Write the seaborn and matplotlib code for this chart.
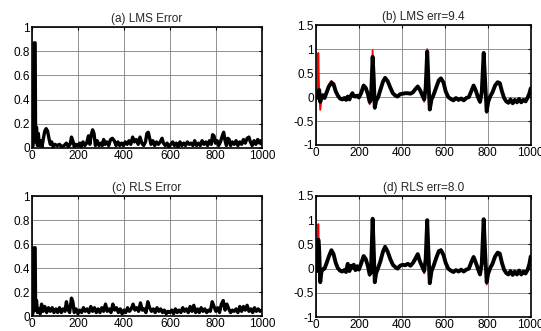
import matplotlib
matplotlib.use("Agg")
import matplotlib.pyplot as plt
import numpy as np
import seaborn as sns

# ---- error curves (peaks/troughs) ----
lms_err_x = [0, 5, 10, 14, 16, 20, 24, 28, 32, 38, 44, 50, 56, 62, 68, 74, 80, 86, 92, 100,
             110, 120, 130, 140, 150, 158, 166, 172, 178, 184, 192, 200, 208, 214, 222, 230, 238, 246, 252, 258,
             264, 270, 276, 284, 292, 300, 306, 312, 318, 326, 334, 342, 350, 358, 366, 374, 382, 390, 398, 406,
             414, 422, 430, 438, 446, 454, 462, 470, 478, 486, 494, 500, 506, 512, 518, 526, 534, 542, 550, 558,
             566, 572, 580, 588, 596, 604, 612, 620, 628, 636, 644, 652, 660, 668, 676, 684, 692, 700, 708, 716,
             724, 732, 740, 748, 756, 764, 772, 780, 786, 792, 798, 806, 812, 820, 828, 834, 840, 846, 852, 858,
             864, 872, 880, 888, 896, 904, 912, 920, 928, 936, 944, 950, 958, 966, 974, 982, 990, 996, 1000]
lms_err_y = [0.0, 0.02, 0.87, 0.87, 0.05, 0.17, 0.02, 0.12, 0.02, 0.06, 0.01, 0.08, 0.14, 0.16, 0.14, 0.08, 0.03, 0.05, 0.01, 0.03,
             0.02, 0.03, 0.01, 0.02, 0.04, 0.01, 0.03, 0.09, 0.06, 0.01, 0.03, 0.02, 0.04, 0.01, 0.05, 0.02, 0.04, 0.10, 0.03, 0.11,
             0.15, 0.12, 0.02, 0.06, 0.02, 0.04, 0.02, 0.07, 0.03, 0.05, 0.02, 0.07, 0.08, 0.06, 0.02, 0.05, 0.02, 0.04, 0.02, 0.05,
             0.03, 0.06, 0.03, 0.09, 0.05, 0.07, 0.03, 0.09, 0.04, 0.02, 0.05, 0.12, 0.13, 0.08, 0.03, 0.06, 0.02, 0.05, 0.03, 0.05,
             0.08, 0.04, 0.02, 0.04, 0.01, 0.03, 0.05, 0.02, 0.04, 0.01, 0.05, 0.02, 0.04, 0.02, 0.05, 0.03, 0.04, 0.02, 0.06, 0.02,
             0.04, 0.02, 0.06, 0.03, 0.05, 0.02, 0.06, 0.03, 0.11, 0.10, 0.04, 0.06, 0.02, 0.05, 0.10, 0.13, 0.06, 0.02, 0.08, 0.07,
             0.02, 0.05, 0.03, 0.06, 0.02, 0.05, 0.03, 0.07, 0.04, 0.08, 0.09, 0.05, 0.02, 0.06, 0.03, 0.07, 0.04, 0.06, 0.03]

rls_err_x = [0, 5, 9, 14, 16, 20, 24, 30, 36, 42, 48, 56, 64, 72, 80, 88, 96, 104, 112, 120,
             128, 136, 144, 150, 156, 164, 172, 178, 184, 192, 200, 208, 216, 224, 232, 240, 248, 256, 264, 272,
             280, 288, 296, 304, 312, 320, 328, 336, 344, 352, 360, 368, 376, 384, 392, 400, 408, 416, 424, 432,
             440, 448, 456, 464, 472, 480, 488, 496, 504, 512, 520, 528, 536, 544, 552, 560, 568, 576, 584, 592,
             600, 608, 616, 624, 632, 640, 648, 656, 664, 672, 680, 688, 696, 704, 712, 720, 728, 736, 744, 752,
             760, 768, 776, 784, 792, 800, 808, 816, 824, 832, 840, 848, 856, 864, 872, 880, 888, 896, 904, 912,
             920, 928, 936, 944, 952, 960, 968, 976, 984, 992, 1000]
rls_err_y = [0.0, 0.03, 0.57, 0.57, 0.05, 0.13, 0.03, 0.06, 0.02, 0.10, 0.04, 0.08, 0.03, 0.07, 0.04, 0.07, 0.03, 0.06, 0.03, 0.07,
             0.03, 0.06, 0.04, 0.12, 0.06, 0.03, 0.15, 0.12, 0.03, 0.06, 0.02, 0.05, 0.03, 0.07, 0.04, 0.06, 0.03, 0.08, 0.04, 0.07,
             0.03, 0.06, 0.03, 0.07, 0.04, 0.10, 0.04, 0.06, 0.03, 0.10, 0.05, 0.07, 0.03, 0.06, 0.02, 0.05, 0.03, 0.07, 0.04, 0.06,
             0.10, 0.05, 0.07, 0.04, 0.11, 0.05, 0.06, 0.03, 0.12, 0.07, 0.04, 0.06, 0.03, 0.07, 0.04, 0.06, 0.03, 0.05, 0.02, 0.04,
             0.03, 0.05, 0.02, 0.06, 0.03, 0.05, 0.03, 0.07, 0.04, 0.06, 0.03, 0.08, 0.04, 0.09, 0.03, 0.06, 0.03, 0.07, 0.04, 0.06,
             0.03, 0.05, 0.04, 0.12, 0.08, 0.04, 0.07, 0.03, 0.10, 0.13, 0.05, 0.10, 0.06, 0.03, 0.05, 0.04, 0.06, 0.03, 0.08, 0.04,
             0.08, 0.05, 0.09, 0.04, 0.06, 0.03, 0.07, 0.04, 0.06, 0.04, 0.05]

# ---- ECG: reference (red) and filter outputs (black) ----
ecg_x = [0, 5, 8, 11, 15, 20, 26, 32, 40, 50,
         60, 72, 82, 92, 102, 112, 122, 132, 140, 148,
         156, 164, 170, 176, 184, 192, 200, 210, 222, 232,
         242, 250, 256, 264, 269, 274, 280, 290, 300, 312,
         322, 334, 346, 358, 370, 380, 392, 404, 416, 428,
         440, 452, 462, 474, 484, 494, 504, 511, 518, 524,
         530, 538, 548, 560, 572, 582, 594, 604, 616, 628,
         640, 652, 664, 676, 688, 700, 712, 724, 734, 744,
         754, 764, 772, 781, 788, 795, 802, 812, 822, 834,
         846, 856, 866, 876, 886, 896, 906, 916, 926, 936,
         946, 956, 966, 976, 986, 994, 1000]
ecg_ref = [0.0, -0.02, 0.0, 0.92, 0.10, -0.27, -0.05, 0.02, 0.0, 0.10,
           0.25, 0.34, 0.28, 0.12, 0.02, -0.02, -0.04, -0.03, -0.05, 0.0,
           -0.04, 0.05, 0.08, 0.03, 0.0, 0.02, 0.0, 0.08, 0.26, 0.20,
           0.05, -0.15, -0.10, 0.98, 0.40, -0.25, -0.10, 0.0, 0.15, 0.32,
           0.40, 0.33, 0.20, 0.07, 0.04, 0.0, 0.05, 0.08, 0.07, 0.09,
           0.06, 0.10, 0.16, 0.24, 0.15, 0.05, -0.10, 0.20, 1.00, 0.30,
           -0.27, -0.05, 0.05, 0.20, 0.36, 0.40, 0.30, 0.12, 0.0, -0.04,
           -0.06, -0.03, -0.05, -0.03, -0.06, -0.02, 0.0, 0.14, 0.25, 0.15,
           0.0, -0.12, 0.10, 0.94, 0.30, -0.33, -0.10, 0.02, 0.10, 0.25,
           0.32, 0.30, 0.12, -0.02, -0.08, -0.10, -0.06, -0.12, -0.07, -0.10,
           -0.05, -0.10, -0.06, -0.08, -0.02, 0.10, 0.20]
lms_out = [0.0, -0.02, 0.02, 0.12, 0.15, -0.10, 0.0, 0.04, -0.02, 0.10,
           0.22, 0.30, 0.27, 0.12, 0.03, -0.03, -0.05, -0.02, -0.06, 0.01,
           -0.05, 0.04, 0.08, 0.02, 0.01, 0.03, -0.01, 0.08, 0.24, 0.19,
           0.06, -0.10, -0.06, 0.84, 0.40, -0.22, -0.08, 0.0, 0.15, 0.32,
           0.40, 0.33, 0.20, 0.08, 0.03, 0.01, 0.06, 0.07, 0.08, 0.08,
           0.07, 0.10, 0.16, 0.22, 0.15, 0.05, -0.05, 0.20, 0.95, 0.30,
           -0.26, -0.05, 0.05, 0.20, 0.35, 0.39, 0.30, 0.12, 0.0, -0.04,
           -0.07, -0.02, -0.06, -0.03, -0.07, -0.02, 0.0, 0.13, 0.24, 0.14,
           0.0, -0.10, 0.10, 0.92, 0.30, -0.30, -0.10, 0.02, 0.10, 0.24,
           0.31, 0.29, 0.12, -0.02, -0.09, -0.12, -0.05, -0.13, -0.06, -0.11,
           -0.04, -0.11, -0.06, -0.09, -0.01, 0.08, 0.18]
rls_out = [0.0, -0.05, 0.02, 0.60, 0.40, -0.28, -0.05, -0.02, 0.0, 0.12,
           0.25, 0.38, 0.30, 0.12, 0.01, -0.04, -0.06, -0.03, -0.07, 0.10,
           -0.05, 0.06, 0.02, 0.08, -0.03, 0.05, -0.02, 0.10, 0.26, 0.20,
           0.05, -0.12, -0.08, 1.03, 0.40, -0.28, -0.10, 0.02, 0.15, 0.35,
           0.45, 0.35, 0.20, 0.08, 0.03, 0.0, 0.06, 0.08, 0.07, 0.10,
           0.06, 0.12, 0.20, 0.30, 0.15, 0.05, -0.05, 0.20, 1.00, 0.30,
           -0.30, -0.05, 0.06, 0.22, 0.36, 0.38, 0.28, 0.12, 0.0, -0.04,
           -0.07, -0.03, -0.06, -0.02, -0.06, -0.02, 0.0, 0.14, 0.24, 0.13,
           0.0, -0.12, 0.10, 1.02, 0.30, -0.28, -0.10, 0.02, 0.10, 0.25,
           0.33, 0.31, 0.12, -0.02, -0.09, -0.12, -0.05, -0.13, -0.06, -0.12,
           -0.04, -0.12, -0.06, -0.10, -0.02, 0.10, 0.25]

titles = ["(a) LMS Error", "(b) LMS err=9.4", "(c) RLS Error", "(d) RLS err=8.0"]
x_ticks = [0, 200, 400, 600, 800, 1000]
err_ticks = [0, 0.2, 0.4, 0.6, 0.8, 1]
err_labels = ["0", "0.2", "0.4", "0.6", "0.8", "1"]
ecg_ticks = [-1, -0.5, 0, 0.5, 1, 1.5]
ecg_labels = ["-1", "-0.5", "0", "0.5", "1", "1.5"]

sns.set_style("white")
plt.rcParams['font.family'] = ['Liberation Sans', 'DejaVu Sans']
plt.rcParams['font.size'] = 8.5

fig = plt.figure(figsize=(5.41, 3.31), dpi=100)
ax_a = fig.add_axes([0.059, 0.553, 0.425, 0.365])
ax_b = fig.add_axes([0.584, 0.562, 0.397, 0.362])
ax_c = fig.add_axes([0.059, 0.045, 0.425, 0.362])
ax_d = fig.add_axes([0.584, 0.042, 0.397, 0.366])


def style(ax, title, yticks, ylabels):
    ax.set_xlim(0, 1000)
    ax.set_ylim(yticks[0], yticks[-1])
    ax.set_xticks(x_ticks)
    ax.set_xticklabels([str(t) for t in x_ticks])
    ax.set_yticks(yticks)
    ax.set_yticklabels(ylabels)
    ax.grid(True, color='#808080', linewidth=0.6)
    ax.tick_params(direction='in', length=2.5, width=0.8, top=True, right=True,
                   labelsize=8.5, pad=1.5, colors='black')
    for s in ax.spines.values():
        s.set_color('black')
        s.set_linewidth(1.2)
    ax.set_xlabel("")
    ax.set_ylabel("")
    ax.set_title(title, fontsize=8.5, pad=3.5)


sns.lineplot(x=lms_err_x, y=lms_err_y, ax=ax_a, color='black', linewidth=2.4, estimator=None)
style(ax_a, titles[0], err_ticks, err_labels)

sns.lineplot(x=ecg_x, y=ecg_ref, ax=ax_b, color='red', linewidth=1.3, estimator=None)
sns.lineplot(x=ecg_x, y=lms_out, ax=ax_b, color='black', linewidth=2.8, estimator=None)
style(ax_b, titles[1], ecg_ticks, ecg_labels)

sns.lineplot(x=rls_err_x, y=rls_err_y, ax=ax_c, color='black', linewidth=2.4, estimator=None)
style(ax_c, titles[2], err_ticks, err_labels)

sns.lineplot(x=ecg_x, y=ecg_ref, ax=ax_d, color='red', linewidth=1.3, estimator=None)
sns.lineplot(x=ecg_x, y=rls_out, ax=ax_d, color='black', linewidth=2.8, estimator=None)
style(ax_d, titles[3], ecg_ticks, ecg_labels)

fig.savefig("out.png", dpi=100)
